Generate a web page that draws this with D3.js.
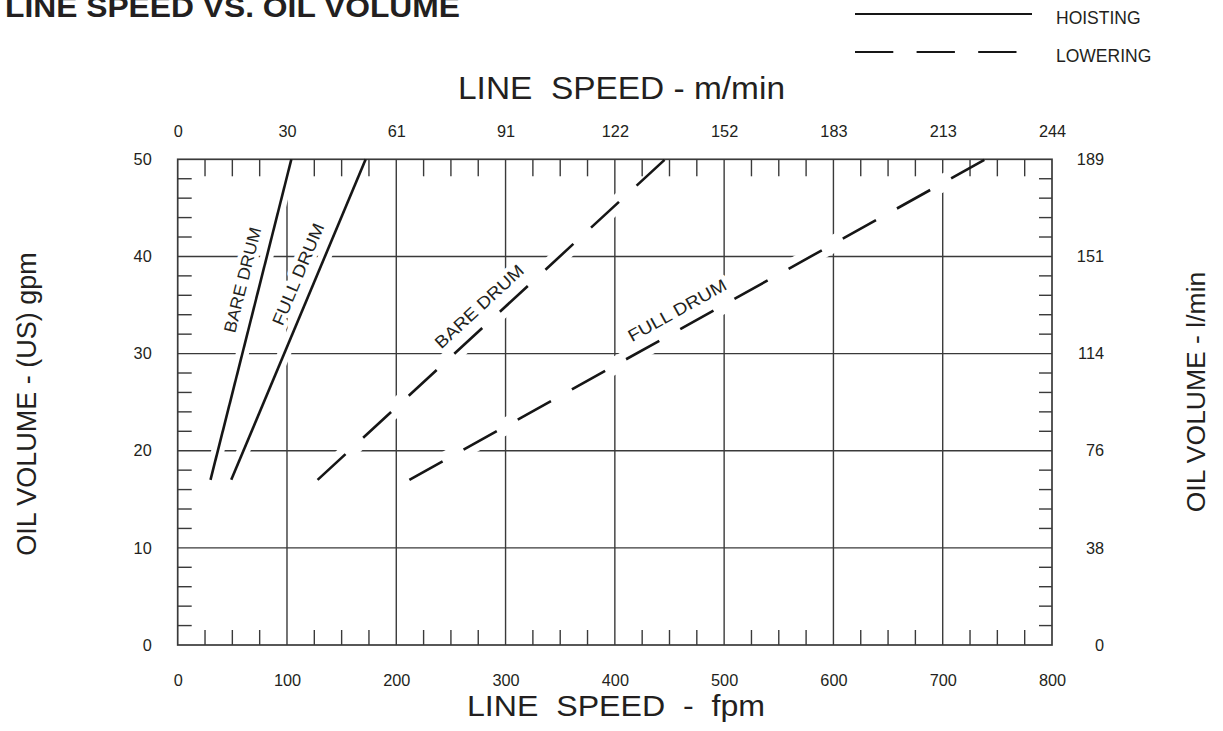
<!DOCTYPE html>
<html>
<head>
<meta charset="utf-8">
<script src="https://cdn.jsdelivr.net/npm/d3@7"></script>
<style>
  html, body { margin: 0; padding: 0; background: #fff; }
  svg { display: block; font-family: "Liberation Sans", Arial, Helvetica, sans-serif; }
</style>
</head>
<body>
<svg id="chart" width="1223" height="731"></svg>
<script>
// ---------- DATA ----------
const fpmTicks = [0, 100, 200, 300, 400, 500, 600, 700, 800];
const mminLabels = ["0", "30", "61", "91", "122", "152", "183", "213", "244"];
const gpmTicks = [0, 10, 20, 30, 40, 50];
const lminLabels = ["0", "38", "76", "114", "151", "189"];

const seriesNames = ["BARE DRUM", "FULL DRUM", "BARE DRUM", "FULL DRUM"];
const seriesModes = ["HOISTING", "HOISTING", "LOWERING", "LOWERING"];
const bareHoistFpm = [30, 104];
const bareHoistGpm = [17, 50];
const fullHoistFpm = [49, 172];
const fullHoistGpm = [17, 50];
const bareLowerFpm = [128, 446];
const bareLowerGpm = [17, 50];
const fullLowerFpm = [212, 739];
const fullLowerGpm = [17, 50];

const legendItems = ["HOISTING", "LOWERING"];

// ---------- LAYOUT ----------
const svg = d3.select("#chart");
const x = d3.scaleLinear().domain([0, 800]).range([177.7, 1052]);
const y = d3.scaleLinear().domain([0, 50]).range([645, 159.3]);
const ink = "#161616", gridCol = "#3a3a3a", textCol = "#231f20";

const series = [
  { name: seriesNames[0], mode: seriesModes[0], xs: bareHoistFpm, ys: bareHoistGpm, labelAt: 0.61, labLen: 108 },
  { name: seriesNames[1], mode: seriesModes[1], xs: fullHoistFpm, ys: fullHoistGpm, labelAt: 0.62, labLen: 109 },
  { name: seriesNames[2], mode: seriesModes[2], xs: bareLowerFpm, ys: bareLowerGpm, labelAt: 0.50, labLen: 114 },
  { name: seriesNames[3], mode: seriesModes[3], xs: fullLowerFpm, ys: fullLowerGpm, labelAt: 0.48, labLen: 110 }
].map(s => ({ ...s, pts: s.xs.map((v, i) => [v, s.ys[i]]) }));

const line = d3.line().x(d => x(d[0])).y(d => y(d[1]));

// ---------- GRID ----------
const grid = svg.append("g");
grid.selectAll("line.v").data(fpmTicks.slice(1, -1)).join("line")
  .attr("x1", d => x(d)).attr("x2", d => x(d))
  .attr("y1", y(50)).attr("y2", y(0))
  .attr("stroke", gridCol).attr("stroke-width", 1.4);
grid.selectAll("line.h").data(gpmTicks.slice(1, -1)).join("line")
  .attr("y1", d => y(d)).attr("y2", d => y(d))
  .attr("x1", x(0)).attr("x2", x(800))
  .attr("stroke", gridCol).attr("stroke-width", 1.4);

// ---------- HALOS (break grid where curves pass) ----------
svg.append("g").selectAll("path").data(series).join("path")
  .attr("d", d => line(d.pts))
  .attr("fill", "none").attr("stroke", "#fff")
  .attr("stroke-width", d => d.mode === "HOISTING" ? 13 : 17);

// ---------- FRAME + MINOR TICKS ----------
const frame = svg.append("g");
frame.append("rect")
  .attr("x", x(0)).attr("y", y(50))
  .attr("width", x(800) - x(0)).attr("height", y(0) - y(50))
  .attr("fill", "none").attr("stroke", gridCol).attr("stroke-width", 1.7);

const minorX = d3.range(25, 800, 25).filter(v => v % 100 !== 0);
const minorY = d3.range(2, 50, 2).filter(v => v % 10 !== 0);
frame.selectAll("line.mxt").data(minorX).join("line")
  .attr("x1", d => x(d)).attr("x2", d => x(d))
  .attr("y1", y(50)).attr("y2", y(50) + 17)
  .attr("stroke", gridCol).attr("stroke-width", 1.4);
frame.selectAll("line.mxb").data(minorX).join("line")
  .attr("x1", d => x(d)).attr("x2", d => x(d))
  .attr("y1", y(0)).attr("y2", y(0) - 15)
  .attr("stroke", gridCol).attr("stroke-width", 1.4);
frame.selectAll("line.myl").data(minorY).join("line")
  .attr("y1", d => y(d)).attr("y2", d => y(d))
  .attr("x1", x(0)).attr("x2", x(0) + 14)
  .attr("stroke", gridCol).attr("stroke-width", 1.4);
frame.selectAll("line.myr").data(minorY).join("line")
  .attr("y1", d => y(d)).attr("y2", d => y(d))
  .attr("x1", x(800)).attr("x2", x(800) - 13)
  .attr("stroke", gridCol).attr("stroke-width", 1.4);

// ---------- AXES (labels only, via d3 axes) ----------
function styleAxis(g) {
  g.select(".domain").remove();
  g.selectAll(".tick line").remove();
  g.selectAll(".tick text").attr("fill", textCol)
    .attr("font-size", 16.3).attr("font-family", "Liberation Sans, Arial, sans-serif");
}
svg.append("g").attr("transform", `translate(0,${y(0) + 17})`)
  .call(d3.axisBottom(x).tickValues(fpmTicks).tickFormat(d3.format("d")).tickSize(0).tickPadding(12))
  .call(styleAxis);
svg.append("g").attr("transform", `translate(0,${y(50) - 22})`)
  .call(d3.axisTop(x).tickValues(fpmTicks).tickFormat((d, i) => mminLabels[i]).tickSize(0).tickPadding(0))
  .call(styleAxis);
svg.append("g").attr("transform", `translate(${x(0) - 26},0)`)
  .call(d3.axisLeft(y).tickValues(gpmTicks).tickFormat(d3.format("d")).tickSize(0).tickPadding(0))
  .call(styleAxis);
svg.append("g").attr("transform", `translate(${x(800) + 52},0)`)
  .call(d3.axisLeft(y).tickValues(gpmTicks).tickFormat((d, i) => lminLabels[i]).tickSize(0).tickPadding(0))
  .call(styleAxis);

// ---------- CURVE LABELS ----------
const labG = svg.append("g");
series.forEach(s => {
  const p0 = [x(s.pts[0][0]), y(s.pts[0][1])];
  const p1 = [x(s.pts[1][0]), y(s.pts[1][1])];
  const dx = p1[0] - p0[0], dy = p1[1] - p0[1];
  const len = Math.hypot(dx, dy);
  const ux = dx / len, uy = dy / len;
  const nx = uy, ny = -ux;  // normal pointing up-left
  const off = 17.5;
  const cx = p0[0] + dx * s.labelAt + nx * off;
  const cy = p0[1] + dy * s.labelAt + ny * off;
  const ang = Math.atan2(dy, dx) * 180 / Math.PI;
  labG.append("text")
    .attr("transform", `translate(${cx},${cy}) rotate(${ang})`)
    .attr("x", -s.labLen / 2)
    .attr("dominant-baseline", "central")
    .attr("font-size", 17).attr("fill", textCol)
    .attr("textLength", s.labLen).attr("lengthAdjust", "spacingAndGlyphs")
    .attr("stroke", "#fff").attr("stroke-width", 9).attr("paint-order", "stroke")
    .attr("stroke-linejoin", "round")
    .text(s.name);
});

// ---------- CURVES ----------
svg.append("g").selectAll("path").data(series).join("path")
  .attr("d", d => line(d.pts))
  .attr("fill", "none").attr("stroke", ink).attr("stroke-width", 2.6)
  .attr("stroke-dasharray", d => d.mode === "LOWERING" ? "38,24" : null);

// ---------- TITLES ----------
svg.append("text").attr("x", 5).attr("y", 17)
  .attr("font-size", 30).attr("font-weight", "bold").attr("fill", textCol)
  .attr("textLength", 455).attr("lengthAdjust", "spacingAndGlyphs")
  .text("LINE SPEED VS. OIL VOLUME");

svg.append("text").attr("x", 458).attr("y", 99)
  .attr("font-size", 31).attr("fill", textCol).style("white-space", "pre")
  .attr("textLength", 327).attr("lengthAdjust", "spacingAndGlyphs")
  .text("LINE  SPEED - m/min");

svg.append("text").attr("x", 467).attr("y", 716)
  .attr("font-size", 29).attr("fill", textCol).style("white-space", "pre")
  .attr("textLength", 298).attr("lengthAdjust", "spacingAndGlyphs")
  .text("LINE  SPEED  -  fpm");

svg.append("text").attr("transform", "translate(36,404) rotate(-90)")
  .attr("text-anchor", "middle")
  .attr("font-size", 27).attr("fill", textCol)
  .text("OIL VOLUME - (US) gpm");

svg.append("text").attr("transform", "translate(1205,392) rotate(-90)")
  .attr("text-anchor", "middle")
  .attr("font-size", 26.5).attr("fill", textCol)
  .text("OIL VOLUME - l/min");

// ---------- LEGEND ----------
const legY = [14, 52];
const leg = svg.append("g");
legendItems.forEach((name, i) => {
  leg.append("line").attr("x1", 855).attr("x2", i === 0 ? 1032 : 1017)
    .attr("y1", legY[i]).attr("y2", legY[i])
    .attr("stroke", ink).attr("stroke-width", 1.8)
    .attr("stroke-dasharray", i === 1 ? "38.3,23.3" : null);
  leg.append("text").attr("x", 1056).attr("y", legY[i] + 9.5)
    .attr("font-size", 17.5).attr("fill", textCol)
    .text(name);
});
</script>
</body>
</html>
